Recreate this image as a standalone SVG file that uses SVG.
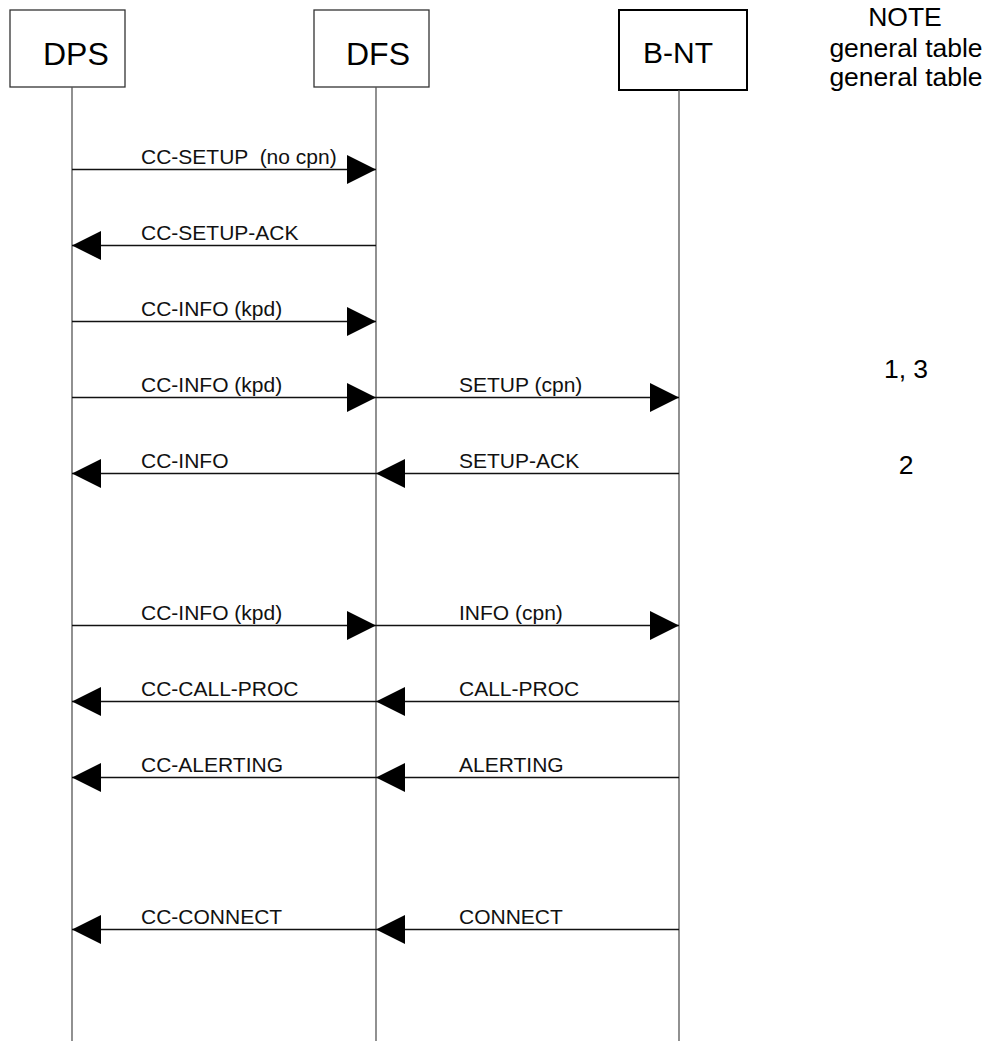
<svg xmlns="http://www.w3.org/2000/svg" width="988" height="1041" viewBox="0 0 988 1041">
<defs>
<style>
.box{fill:#fff;stroke:#333;stroke-width:1.3}
.boxb{fill:#fff;stroke:#000;stroke-width:2}
.life{stroke:#555;stroke-width:1.3;fill:none}
.msg{stroke:#111;stroke-width:1.3;fill:none;marker-end:url(#ah)}
.hdr{font-family:"Liberation Sans",Arial,sans-serif;font-size:32px;fill:#000}
.lbl{font-family:"Liberation Sans",Arial,sans-serif;font-size:21px;fill:#111}
.note{font-family:"Liberation Sans",Arial,sans-serif;font-size:26.5px;fill:#000;text-anchor:middle}
</style>
<marker id="ah" viewBox="0 0 29 29" refX="29" refY="14.5" markerWidth="29" markerHeight="29" orient="auto" markerUnits="userSpaceOnUse">
<path d="M0,0 L29,14.5 L0,29 Z" fill="#000"/>
</marker>
</defs>
<rect width="988" height="1041" fill="#fff"/>

<g id="DPS">
<rect class="box" x="10" y="10" width="115" height="77"/>
<text class="hdr" x="43" y="65">DPS</text>
<line class="life" x1="72" y1="87" x2="72" y2="1041"/>
</g>
<g id="DFS">
<rect class="box" x="314" y="10" width="115" height="77"/>
<text class="hdr" x="346" y="65">DFS</text>
<line class="life" x1="376" y1="87" x2="376" y2="1041"/>
</g>
<g id="BNT">
<rect class="boxb" x="619" y="10" width="128" height="80"/>
<text class="hdr" x="643" y="63" style="font-size:30px">B-NT</text>
<line class="life" x1="679" y1="90" x2="679" y2="1041"/>
</g>
<g id="notes">
<text class="note" x="905" y="26">NOTE</text>
<text class="note" x="906" y="56.5">general table</text>
<text class="note" x="906" y="86">general table</text>
<text class="note" x="906" y="378">1, 3</text>
<text class="note" x="906" y="474">2</text>
</g>

<g id="connectors">
<line class="msg" x1="72" y1="169.5" x2="376" y2="169.5"/>
<line class="msg" x1="376" y1="245.5" x2="72" y2="245.5"/>
<line class="msg" x1="72" y1="321.5" x2="376" y2="321.5"/>
<line class="msg" x1="72" y1="397.5" x2="376" y2="397.5"/>
<line class="msg" x1="376" y1="397.5" x2="679" y2="397.5"/>
<line class="msg" x1="376" y1="473.5" x2="72" y2="473.5"/>
<line class="msg" x1="679" y1="473.5" x2="376" y2="473.5"/>
<line class="msg" x1="72" y1="625.5" x2="376" y2="625.5"/>
<line class="msg" x1="376" y1="625.5" x2="679" y2="625.5"/>
<line class="msg" x1="376" y1="701.5" x2="72" y2="701.5"/>
<line class="msg" x1="679" y1="701.5" x2="376" y2="701.5"/>
<line class="msg" x1="376" y1="777.5" x2="72" y2="777.5"/>
<line class="msg" x1="679" y1="777.5" x2="376" y2="777.5"/>
<line class="msg" x1="376" y1="929.5" x2="72" y2="929.5"/>
<line class="msg" x1="679" y1="929.5" x2="376" y2="929.5"/>
</g>

<g id="labels">
<text class="lbl" x="141" y="164" xml:space="preserve">CC-SETUP  (no cpn)</text>
<text class="lbl" x="141" y="240">CC-SETUP-ACK</text>
<text class="lbl" x="141" y="316">CC-INFO (kpd)</text>
<text class="lbl" x="141" y="392">CC-INFO (kpd)</text>
<text class="lbl" x="459" y="392">SETUP (cpn)</text>
<text class="lbl" x="141" y="468">CC-INFO</text>
<text class="lbl" x="459" y="468">SETUP-ACK</text>
<text class="lbl" x="141" y="620">CC-INFO (kpd)</text>
<text class="lbl" x="459" y="620">INFO (cpn)</text>
<text class="lbl" x="141" y="696">CC-CALL-PROC</text>
<text class="lbl" x="459" y="696">CALL-PROC</text>
<text class="lbl" x="141" y="772">CC-ALERTING</text>
<text class="lbl" x="459" y="772">ALERTING</text>
<text class="lbl" x="141" y="924">CC-CONNECT</text>
<text class="lbl" x="459" y="924">CONNECT</text>
</g>
</svg>
